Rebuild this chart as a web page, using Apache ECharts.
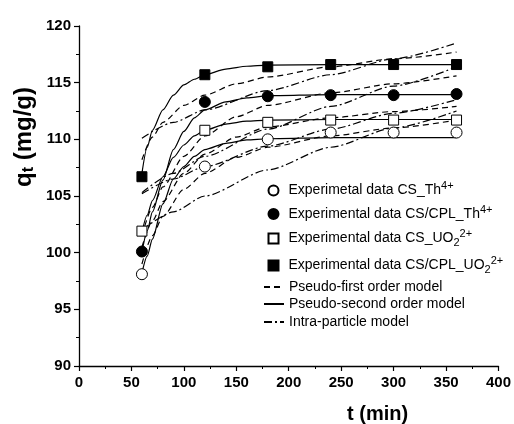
<!DOCTYPE html>
<html><head><meta charset="utf-8">
<script src="https://cdn.jsdelivr.net/npm/echarts@6/dist/echarts.min.js"></script>
<style>html,body{margin:0;padding:0;background:#fff}#c{width:514px;height:424px}</style>
</head><body><div id="c"></div>
<script>
// ---- experimental data ----
const tExp = [60, 120, 180, 240, 300, 360];
const qCS_Th = [98.1, 107.6, 110.0, 110.6, 110.6, 110.6];
const qCSCPL_Th = [100.1, 113.3, 113.8, 113.9, 113.9, 114.0];
const qCS_UO2 = [101.9, 110.8, 111.5, 111.7, 111.7, 111.7];
const qCSCPL_UO2 = [106.7, 115.7, 116.4, 116.6, 116.6, 116.6];

// ---- pseudo-first order model (dashed) ----
const tPFO = [60, 70, 80, 100, 120, 150, 180, 240, 300, 360];
const pfoCSCPL_UO2 = [108.2, 110.2, 111.5, 113.0, 113.9, 114.9, 115.5, 116.4, 117.1, 117.7];
const pfoCSCPL_Th = [101.5, 104.0, 105.8, 108.5, 110.3, 112.0, 113.0, 114.1, 114.9, 115.6];
const pfoCS_UO2 = [100.5, 102.8, 104.5, 107.0, 108.7, 110.2, 111.1, 111.9, 112.45, 112.9];
const pfoCS_Th = [99.0, 101.5, 103.2, 105.6, 107.0, 108.4, 109.3, 110.3, 111.0, 111.7];

// ---- pseudo-second order model (solid) ----
const tPSO = [60, 65, 70, 80, 90, 100, 110, 120, 140, 160, 180, 240, 300, 360];
const psoCSCPL_UO2 = [107.0, 109.3, 110.8, 112.6, 113.9, 114.8, 115.3, 115.7, 116.2, 116.45, 116.55, 116.6, 116.6, 116.6];
const psoCSCPL_Th = [100.0, 101.9, 103.6, 106.4, 109.1, 110.7, 111.9, 112.6, 113.3, 113.65, 113.85, 113.95, 113.95, 113.95];
const psoCS_UO2 = [101.8, 103.3, 104.6, 106.7, 108.4, 109.5, 110.3, 110.8, 111.35, 111.6, 111.7, 111.75, 111.75, 111.75];
const psoCS_Th = [98.2, 99.7, 101.2, 104.3, 106.5, 107.6, 108.5, 109.1, 109.65, 109.95, 110.05, 110.15, 110.15, 110.15];

// ---- intra-particle model (dash-dot) ----
const tIPD = [60, 90, 120, 180, 240, 300, 360];
const ipdCSCPL_UO2 = [110.1, 111.5, 112.6, 114.3, 115.7, 117.1, 118.5];
const ipdCSCPL_Th = [105.3, 107.0, 108.5, 110.9, 112.9, 114.7, 116.4];
const ipdCS_UO2 = [105.2, 106.5, 107.6, 109.4, 110.9, 112.3, 113.5];
const ipdCS_Th = [102.0, 103.6, 105.0, 107.3, 109.3, 111.0, 112.5];

const xTicks = {min: 0, max: 400, interval: 50};
const yTicks = {min: 90, max: 120, interval: 5};

const N1 = 'Experimetal data CS_Th4+';
const N2 = 'Experimental data CS/CPL_Th4+';
const N3 = 'Experimental data CS_UO22+';
const N4 = 'Experimental data CS/CPL_UO22+';
const L1 = 'Pseudo-first order model';
const L2 = 'Pseudo-second order model';
const L3 = 'Intra-particle model';

const richLabels = {};
richLabels[N1] = '{a|Experimetal data CS_Th}{sup|4+}';
richLabels[N2] = '{a|Experimental data CS/CPL_Th}{sup|4+}';
richLabels[N3] = '{a|Experimental data CS_UO}{sub|2}{sup|2+}';
richLabels[N4] = '{a|Experimental data CS/CPL_UO}{sub|2}{sup|2+}';

const zip = (xs, ys) => xs.map((x, i) => [x, ys[i]]);
const FONT = 'Liberation Sans, Arial, sans-serif';
const DASH = [6, 4];
const DASHDOT = [8, 3, 2, 3];

function lineSeries(name, xs, ys, type) {
  return {
    type: 'line', name: name, data: zip(xs, ys), symbol: 'none',
    smooth: 0.25, smoothMonotone: 'x', z: 2,
    lineStyle: {color: '#000', width: 1.2, type: type},
    itemStyle: {color: '#000'}, emphasis: {disabled: true}
  };
}
function scatterSeries(name, ys, symbol, filled) {
  return {
    type: 'scatter', name: name, data: zip(tExp, ys), symbol: symbol,
    symbolSize: symbol === 'circle' ? 11 : 10, z: 5,
    itemStyle: {color: filled ? '#000' : '#fff', borderColor: '#000', borderWidth: 1, opacity: 1},
    emphasis: {disabled: true}
  };
}

const series = [
  lineSeries(L1, tPFO, pfoCSCPL_UO2, DASH),
  lineSeries(L1, tPFO, pfoCSCPL_Th, DASH),
  lineSeries(L1, tPFO, pfoCS_UO2, DASH),
  lineSeries(L1, tPFO, pfoCS_Th, DASH),
  lineSeries(L2, tPSO, psoCSCPL_UO2, 'solid'),
  lineSeries(L2, tPSO, psoCSCPL_Th, 'solid'),
  lineSeries(L2, tPSO, psoCS_UO2, 'solid'),
  lineSeries(L2, tPSO, psoCS_Th, 'solid'),
  lineSeries(L3, tIPD, ipdCSCPL_UO2, DASHDOT),
  lineSeries(L3, tIPD, ipdCSCPL_Th, DASHDOT),
  lineSeries(L3, tIPD, ipdCS_UO2, DASHDOT),
  lineSeries(L3, tIPD, ipdCS_Th, DASHDOT),
  scatterSeries(N1, qCS_Th, 'circle', false),
  scatterSeries(N2, qCSCPL_Th, 'circle', true),
  scatterSeries(N3, qCS_UO2, 'rect', false),
  scatterSeries(N4, qCSCPL_UO2, 'rect', true)
];

const legendText = {
  fontFamily: FONT, fontSize: 14, color: '#000',
  rich: {
    a: {fontFamily: FONT, fontSize: 14, lineHeight: 20, verticalAlign: 'middle', color: '#000'},
    sup: {fontFamily: FONT, fontSize: 11, lineHeight: 11, verticalAlign: 'top', color: '#000'},
    sub: {fontFamily: FONT, fontSize: 11, lineHeight: 10, verticalAlign: 'bottom', color: '#000'}
  }
};
const SQ = 'path://M0,0H10V10H0Z';
// legend rows: [name, centre y]
const markerRows = [[N1, 190.5, 'circle'], [N2, 214, 'circle'], [N3, 238.5, SQ], [N4, 265.5, SQ]];
const lineRows = [[L1, 287], [L2, 304], [L3, 322]];

const legends = [];
markerRows.forEach(r => legends.push({
  data: [{name: r[0], icon: r[2]}], orient: 'vertical', left: 267.5, top: r[1] - 10,
  itemWidth: 20, itemHeight: 10, selectedMode: false, symbolKeepAspect: true,
  formatter: n => richLabels[n], textStyle: legendText, padding: 0
}));
lineRows.forEach(r => legends.push({
  data: [r[0]], orient: 'vertical', left: 263, top: r[1] - 8,
  itemWidth: 20, itemHeight: 10, selectedMode: false,
  itemStyle: {color: 'rgba(0,0,0,0)', borderColor: 'rgba(0,0,0,0)', borderWidth: 0, opacity: 0},
  textStyle: {fontFamily: FONT, fontSize: 14, lineHeight: 16, color: '#000'}, padding: 0
}));

const chart = echarts.init(document.getElementById('c'), null, {renderer: 'canvas'});
chart.setOption({
  backgroundColor: '#fff',
  animation: false,
  grid: {left: 79, right: 14, top: 26, bottom: 58, containLabel: false},
  xAxis: {
    type: 'value', min: xTicks.min, max: xTicks.max, interval: xTicks.interval,
    axisLine: {show: true, lineStyle: {color: '#000', width: 1.3}},
    axisTick: {show: true, length: 5, lineStyle: {color: '#000', width: 1.2}},
    minorTick: {show: true, splitNumber: 2, length: 3, lineStyle: {color: '#000', width: 1}},
    splitLine: {show: false},
    axisLabel: {fontFamily: FONT, fontWeight: 'bold', fontSize: 15, color: '#000', margin: 9}
  },
  yAxis: {
    type: 'value', min: yTicks.min, max: yTicks.max, interval: yTicks.interval,
    axisLine: {show: true, lineStyle: {color: '#000', width: 1.3}},
    axisTick: {show: true, length: 5, lineStyle: {color: '#000', width: 1.2}},
    minorTick: {show: true, splitNumber: 2, length: 3, lineStyle: {color: '#000', width: 1}},
    splitLine: {show: false},
    axisLabel: {fontFamily: FONT, fontWeight: 'bold', fontSize: 15, color: '#000', margin: 8}
  },
  legend: legends,
  graphic: [
    {type: 'text', left: 347, top: 404,
     style: {text: 't (min)', font: 'bold 20px ' + FONT, fill: '#000'}},
    {type: 'text', x: 11, y: 187, rotation: Math.PI / 2,
     style: {text: '{q|q}{t|t}{q| (mg/g)}', font: 'bold 24px ' + FONT, fill: '#000',
       rich: {q: {font: 'bold 24px ' + FONT, fill: '#000', lineHeight: 26, verticalAlign: 'middle'},
              t: {font: 'bold 16px ' + FONT, fill: '#000', lineHeight: 13, verticalAlign: 'bottom'}}}}
  ],
  series: series
});
</script>
</body></html>
